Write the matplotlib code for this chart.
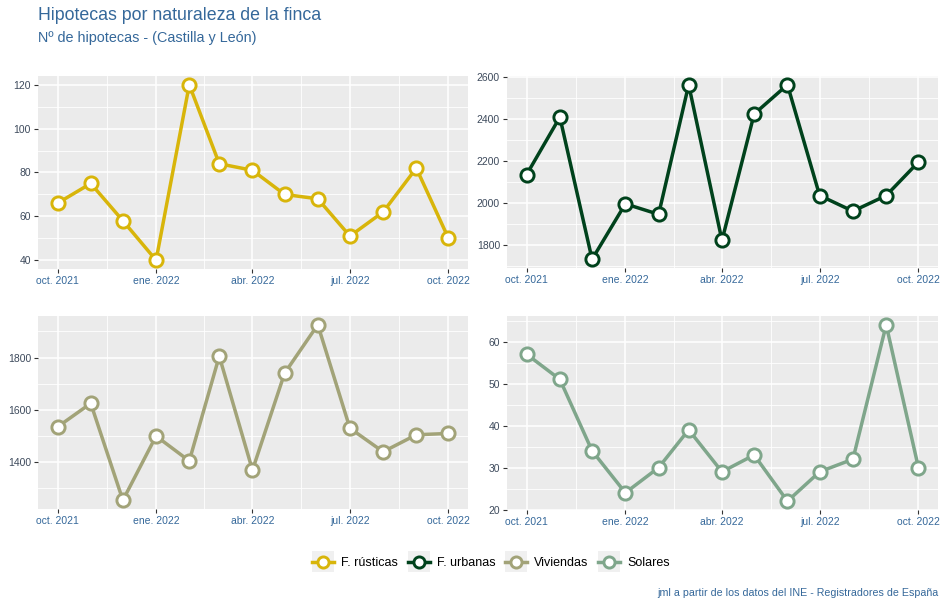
#!/usr/bin/env python3

import numpy as np
import pandas as pd
import matplotlib
matplotlib.use('Agg')
import matplotlib.pyplot as plt
from matplotlib.lines import Line2D
from matplotlib.patches import Rectangle
from matplotlib.legend_handler import HandlerLine2D
from matplotlib.ticker import MultipleLocator

plt.rcParams['font.family'] = ['Liberation Sans', 'DejaVu Sans']

months = pd.date_range('2021-10-01', '2022-10-01', freq='MS')
rusticas = [66, 75, 58, 40, 120, 84, 81, 70, 68, 51, 62, 82, 50]
urbanas = [2135, 2410, 1730, 1995, 1945, 2565, 1820, 2425, 2565, 2035, 1960, 2035, 2195]
viviendas = [1535, 1625, 1255, 1500, 1405, 1805, 1370, 1740, 1925, 1530, 1440, 1505, 1510]
solares = [57, 51, 34, 24, 30, 39, 29, 33, 22, 29, 32, 64, 30]

names = ['F. rústicas', 'F. urbanas', 'Viviendas', 'Solares']
colors = ['#d8b50a', '#00421c', '#a2a378', '#7fa68b']
y_steps = [20, 200, 200, 10]
tick_labels = ['oct. 2021', 'ene. 2022', 'abr. 2022', 'jul. 2022', 'oct. 2022']

TEXT = '#35689a'
W, H = 944, 607


class KeyHandler(HandlerLine2D):
    # ggplot-style legend key: grey square behind the line + point
    def create_artists(self, legend, orig_handle, xdescent, ydescent,
                       width, height, fontsize, trans):
        arts = super().create_artists(legend, orig_handle, xdescent, ydescent,
                                      width, height, fontsize, trans)
        side = width * 0.95
        cy = height / 2 - ydescent
        bg = Rectangle((-xdescent, cy - side / 2), width, side,
                       facecolor='#f0f0f0', edgecolor='none', transform=trans)
        return [bg] + list(arts)


def panel(fig, rect, values, color, step):
    ax = fig.add_axes(rect)
    ax.set_facecolor('#ebebeb')
    for s in ax.spines.values():
        s.set_visible(False)

    ax.plot(months, values, color=color, lw=2.5, marker='o', ms=9.5,
            mfc='white', mec=color, mew=2.1, zorder=3, clip_on=False)

    span = months[-1] - months[0]
    ax.set_xlim(months[0] - span * 0.05, months[-1] + span * 0.05)
    lo, hi = min(values), max(values)
    pad = (hi - lo) * 0.05
    ax.set_ylim(lo - pad, hi + pad)

    major = pd.date_range('2021-10-01', '2022-10-01', freq='3MS')
    ax.set_xticks(major)
    ax.set_xticklabels(tick_labels)
    minor = major[:-1] + (major[1:] - major[:-1]) / 2
    ax.set_xticks(minor, minor=True)

    ax.yaxis.set_major_locator(MultipleLocator(step))
    ax.yaxis.set_minor_locator(MultipleLocator(step / 2))

    ax.grid(which='major', color='white', lw=1.1)
    ax.grid(which='minor', color='white', lw=0.6)
    ax.set_axisbelow(True)
    ax.tick_params(which='major', length=3, width=0.8, color='#333333',
                   labelsize=7.5, labelcolor=TEXT, pad=2)
    ax.tick_params(which='minor', length=0)
    ax.tick_params(axis='y', labelcolor='#3d4a5c')
    return ax


fig = plt.figure(figsize=(W / 100, H / 100), dpi=100)

rects = [
    (38, 76, 468, 269),
    (507, 76, 938, 268),
    (38, 316, 468, 509),
    (507, 316, 938, 510),
]
series = [rusticas, urbanas, viviendas, solares]
for (x0, y0, x1, y1), vals, col, st in zip(rects, series, colors, y_steps):
    panel(fig, [x0 / W, 1 - y1 / H, (x1 - x0) / W, (y1 - y0) / H], vals, col, st)

fig.text(38 / W, 1 - 15 / H, 'Hipotecas por naturaleza de la finca',
         fontsize=12.8, color=TEXT, va='center')
fig.text(38 / W, 1 - 38 / H, 'Nº de hipotecas - (Castilla y León)',
         fontsize=10.4, color=TEXT, va='center')
fig.text(938 / W, 1 - 593 / H,
         'jml a partir de los datos del INE - Registradores de España',
         fontsize=7.7, color=TEXT, ha='right', va='center')

handles = [Line2D([], [], color=c, lw=2.5, marker='o', ms=8, mfc='white',
                  mec=c, mew=2.1) for c in colors]
leg = fig.legend(handles, names, loc='center',
                 bbox_to_anchor=(491 / W, 1 - 563 / H),
                 ncol=4, frameon=False, fontsize=9, handlelength=1.75,
                 handletextpad=0.55, columnspacing=0.8,
                 handler_map={Line2D: KeyHandler()})

fig.savefig('out.png', dpi=100)
